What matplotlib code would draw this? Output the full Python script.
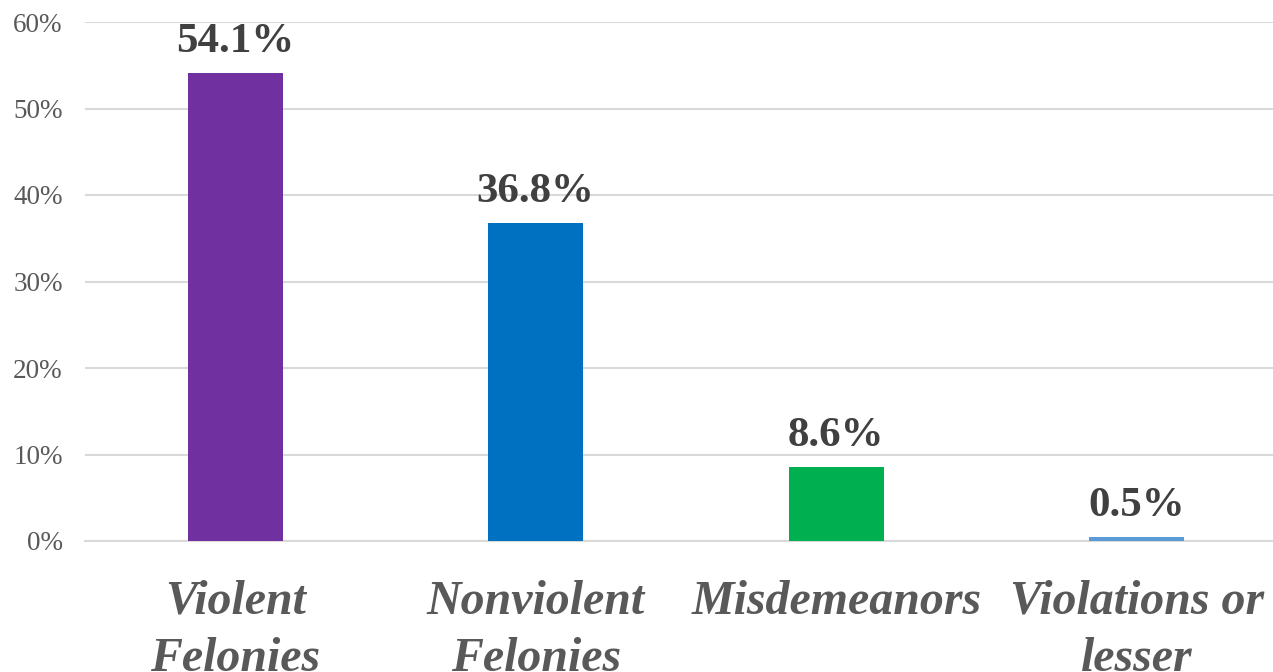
import matplotlib.pyplot as plt
from matplotlib.ticker import PercentFormatter

categories = ['Violent\nFelonies', 'Nonviolent\nFelonies', 'Misdemeanors', 'Violations or\nlesser']
values = [54.1, 36.8, 8.6, 0.5]
bar_colors = ['#7030A0', '#0070C0', '#00B050', '#5B9BD5']
y_ticks = [0, 10, 20, 30, 40, 50, 60]

plt.rcParams['font.family'] = ['Liberation Serif', 'DejaVu Serif']

fig = plt.figure(figsize=(12.73, 6.72), dpi=100)
ax = fig.add_axes([85 / 1273, 131 / 672, 1202 / 1273, 519 / 672])

x = list(range(len(categories)))
bars = ax.bar(x, values, width=0.316, color=bar_colors, zorder=3)

ax.set_xlim(-0.5, 3.5)
ax.set_ylim(0, 60)
ax.set_yticks(y_ticks)
ax.yaxis.set_major_formatter(PercentFormatter(decimals=0))
ax.grid(axis='y', color='#D9D9D9', linewidth=1.5, zorder=0)

for s in ['top', 'right', 'left']:
    ax.spines[s].set_visible(False)
ax.spines['bottom'].set_color('#D9D9D9')
ax.spines['bottom'].set_linewidth(1.5)

ax.tick_params(axis='y', length=0, labelsize=19.5, labelcolor='#595959', pad=16)
ax.tick_params(axis='x', length=0, pad=28)
ax.set_xticks(x)
ax.set_xticklabels(categories, fontsize=34.5, fontweight='bold', fontstyle='italic',
                   color='#595959', linespacing=1.38)

for b, v in zip(bars, values):
    ax.annotate(f'{v:.1f}%', (b.get_x() + b.get_width() / 2, v),
                xytext=(0, 15), textcoords='offset points',
                ha='center', va='baseline', fontsize=31, fontweight='bold', color='#404040')

plt.savefig('out.png', dpi=100)
